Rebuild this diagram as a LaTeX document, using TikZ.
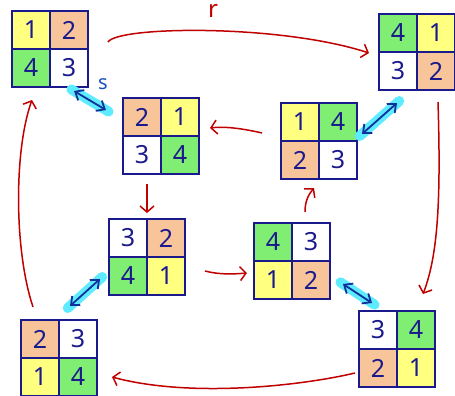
\documentclass[tikz,border=0pt]{standalone}
\usepackage{fontspec}
\setmainfont{Noto Sans}
\usetikzlibrary{arrows.meta}
\definecolor{navy}{HTML}{1A1A8C}
\definecolor{cell1}{HTML}{FFFF80}
\definecolor{cell2}{HTML}{F8C49A}
\definecolor{cell3}{HTML}{FFFFFF}
\definecolor{cell4}{HTML}{80EE72}
\definecolor{redarr}{HTML}{C00000}
\definecolor{cyanhl}{HTML}{5CEBFF}
\definecolor{bluearr}{HTML}{10309C}
\definecolor{slabel}{HTML}{1850C0}
\tikzset{
  gridbox/.style={minimum size=76pt, inner sep=0pt},
  gridline/.style={draw=navy, line width=1.8pt},
  digit/.style={text=navy, inner sep=0pt, font=\fontsize{25}{25}\selectfont},
  redarrow/.style={draw=redarr, line width=1.5pt, -{Straight Barb[length=6pt,width=14pt]}},
  swaphl/.style={draw=cyanhl, line width=10pt, line cap=round, shorten <=-3pt, shorten >=-3pt},
  swaparrow/.style={draw=bluearr, line width=1.8pt, {Straight Barb[length=7pt,width=12pt]}-{Straight Barb[length=7pt,width=12pt]}},
}
\newcommand\gridsq[7]{% name, x, y, TL, TR, BL, BR
  \node[gridbox] (#1) at (#2,#3) {};
  \fill[cell#4] (#1.north west) rectangle (#1.center);
  \fill[cell#5] (#1.north) rectangle (#1.east);
  \fill[cell#6] (#1.west) rectangle (#1.south);
  \fill[cell#7] (#1.center) rectangle (#1.south east);
  \draw[gridline] (#1.north west) rectangle (#1.south east);
  \draw[gridline] (#1.north) -- (#1.south);
  \draw[gridline] (#1.west) -- (#1.east);
  \node[digit] (#1-tl) at ([shift={(-19,-19)}]#1.center) {#4};
  \node[digit] (#1-tr) at ([shift={(19,-19)}]#1.center) {#5};
  \node[digit] (#1-bl) at ([shift={(-19,19)}]#1.center) {#6};
  \node[digit] (#1-br) at ([shift={(19,19)}]#1.center) {#7};
}
\begin{document}
\begin{tikzpicture}[x=1pt,y=-1pt]
\useasboundingbox (0,0) rectangle (455,396);
\gridsq{A}{50}{49}{1}{2}{4}{3}
\gridsq{B}{417}{52}{4}{1}{3}{2}
\gridsq{C}{161}{136}{2}{1}{3}{4}
\gridsq{D}{319}{141}{1}{4}{2}{3}
\gridsq{E}{147}{257}{3}{2}{4}{1}
\gridsq{F}{292}{261}{4}{3}{1}{2}
\gridsq{G}{59}{358}{2}{3}{1}{4}
\gridsq{H}{397}{349}{3}{4}{2}{1}
% red arrow end points
\coordinate (r0) at (108,42);  \coordinate (r1) at (369,53);
\coordinate (bh0) at (438,102); \coordinate (bh1) at (423,294);
\coordinate (hg0) at (355,373); \coordinate (hg1) at (112,377);
\coordinate (ga0) at (33,307);  \coordinate (ga1) at (32,100);
\coordinate (dc0) at (262,133); \coordinate (dc1) at (210,128);
\coordinate (ce0) at (147,184); \coordinate (ce1) at (147,213);
\coordinate (ef0) at (205,271); \coordinate (ef1) at (247,273);
\coordinate (fd0) at (305,212); \coordinate (fd1) at (314,188);
\draw[redarrow] (r0) .. controls (118,26) and (280,24) .. (r1);
\draw[redarrow] (bh0) .. controls (441,200) and (438,255) .. (bh1);
\draw[redarrow] (hg0) .. controls (300,386) and (190,398) .. (hg1);
\draw[redarrow] (ga0) .. controls (14,250) and (14,150) .. (ga1);
\draw[redarrow] (dc0) .. controls (245,129) and (225,126) .. (dc1);
\draw[redarrow] (ce0) -- (ce1);
\draw[redarrow] (ef0) .. controls (220,275) and (235,274) .. (ef1);
\draw[redarrow] (fd0) .. controls (305,202) and (308,195) .. (fd1);
\node[text=redarr, font=\fontsize{24}{24}\selectfont] (rlab) at (213,11) {r};
% swap arrows
\coordinate (s1a) at (74,91);  \coordinate (s1b) at (106,110);
\coordinate (s2a) at (362,134); \coordinate (s2b) at (397,103);
\coordinate (s3a) at (70,306);  \coordinate (s3b) at (100,279);
\coordinate (s4a) at (343,284); \coordinate (s4b) at (372,303);
\foreach \p/\q in {s1a/s1b,s2a/s2b,s3a/s3b,s4a/s4b}{
  \draw[swaphl] (\p) -- (\q);
  \draw[swaparrow] (\p) -- (\q);
}
\node[text=slabel, inner sep=1pt, font=\fontsize{20}{20}\selectfont] (slab) at (103,84) {s};
\end{tikzpicture}
\end{document}
